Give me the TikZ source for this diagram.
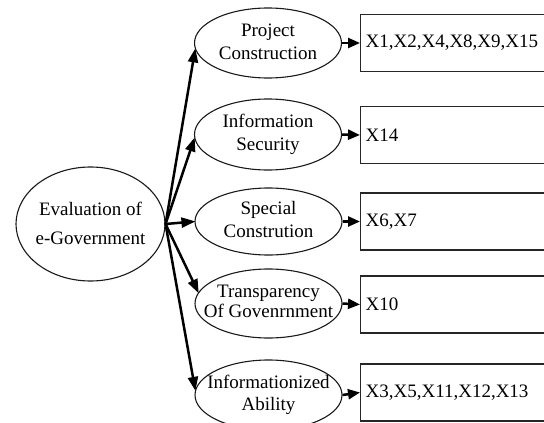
\documentclass[tikz,border=0pt]{standalone}
\usepackage{fontspec}
\setmainfont{Liberation Serif}
\usetikzlibrary{shapes.geometric,arrows.meta}
\newcommand{\twolines}[2]{\makebox[0pt]{\begin{tabular}{@{}c@{}}#1\\#2\end{tabular}}}
\begin{document}
\begin{tikzpicture}[x=1pt,y=-1pt,
  ell/.style={draw=black!90, line width=1.1pt, shape=ellipse, inner sep=0pt, minimum width=147pt, minimum height=70pt, font=\fontsize{19}{23}\selectfont},
  box/.style={draw=black!85, line width=1.2pt, rectangle, anchor=west, inner xsep=5pt, inner ysep=0pt, text width=190pt, minimum height=57pt, align=left, font=\fontsize{19}{23}\selectfont},
  big/.style={line width=2.5pt, -{Triangle[length=14pt,width=10pt]}, shorten >=-1pt},
  small/.style={line width=2.5pt, -{Triangle[length=12pt,width=10pt]}}]
\useasboundingbox (0,0) rectangle (544,423);
\node[ell, minimum width=149pt, minimum height=114pt, font=\fontsize{19}{29}\selectfont] (c) at (90.5,224) {\twolines{Evaluation of}{e-Government}};
\node[ell] (e1) at (268,43) {\twolines{Project}{Construction}};
\node[ell, minimum height=71pt] (e2) at (268,134.5) {\twolines{Information}{Security}};
\node[ell, minimum height=67pt] (e3) at (268.5,221.5) {\twolines{Special}{Constrution}};
\node[ell, minimum height=69pt, font=\fontsize{19}{20}\selectfont] (e4) at (268.5,303.5) {\twolines{Transparency}{Of Govenrnment}};
\node[ell, font=\fontsize{19}{22}\selectfont] (e5) at (268.5,395) {\twolines{Informationized}{Ability}};
\node[box] (r1) at (360,43) {X1,X2,X4,X8,X9,X15};
\node[box] (r2) at (360,135) {X14};
\node[box] (r3) at (360,221.5) {X6,X7};
\node[box] (r4) at (360,304.5) {X10};
\node[box] (r5) at (360,392.5) {X3,X5,X11,X12,X13};
\draw[big] (c.east) -- (e1.185);
\draw[big] (c.east) -- (e2.183);
\draw[big] (c.east) -- (e3.west);
\draw[big] (c.east) -- (e4.171);
\draw[big] (c.east) -- (e5.176);
\draw[small] (e1.east) -- (r1.west);
\draw[small] (e2.east) -- (r2.west);
\draw[small] (e3.east) -- (r3.west);
\draw[small] (e4.east) -- (r4.west);
\draw[small] (e5.east) -- (r5.west);
\end{tikzpicture}
\end{document}
